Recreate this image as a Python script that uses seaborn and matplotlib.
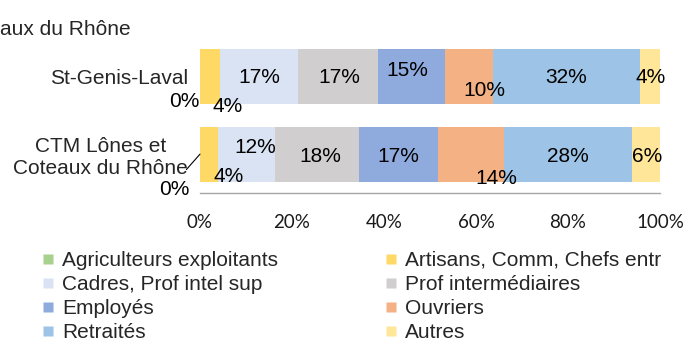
import matplotlib.pyplot as plt
import numpy as np
import seaborn as sns
from matplotlib.lines import Line2D

# Données (parts en %)
places = ["St-Genis-Laval", "CTM Lônes et\nCoteaux du Rhône"]
categories = ["Agriculteurs exploitants", "Artisans, Comm, Chefs entr", "Cadres, Prof intel sup",
              "Prof intermédiaires", "Employés", "Ouvriers", "Retraités", "Autres"]
st_genis = [0.0, 4.35, 16.96, 17.39, 14.57, 10.43, 32.17, 4.28]
ctm = [0.0, 3.91, 12.39, 18.26, 17.17, 14.35, 28.04, 6.0]
colors = ["#A9D18E", "#FFD966", "#DAE3F3", "#D0CECE", "#8FAADC", "#F4B183", "#9DC3E6", "#FFE699"]
x_ticks = [0, 20, 40, 60, 80, 100]

# décalage des étiquettes (pixels) comme dans le graphique d'origine
label_dx = [[-15.5, 18, 0, 1, -3.5, 16, 0, 0],
            [-26, 20, 9, 3, 0.5, 26, 0, 0.5]]
label_dy = [[-25.5, -30, -1, -1.5, 5.5, -14.5, -1.5, -1.5],
            [-35.5, -22.5, 7, -2.5, -2.5, -24.5, -2.5, -2.5]]

sns.set_style("white")
plt.rcParams['font.family'] = ['Liberation Sans', 'DejaVu Sans']

shares = np.array([st_genis, ctm], dtype=float)
shares = shares / shares.sum(axis=1, keepdims=True) * 100
cum = np.cumsum(shares, axis=1)

fig = plt.figure(figsize=(6.87, 3.41), dpi=100)
ax = fig.add_axes([200 / 687, 1 - 193 / 341, 460 / 687, (193 - 37.5) / 341])

# barres empilées : on dessine les cumuls du plus grand au plus petit
for i in reversed(range(len(categories))):
    sns.barplot(x=cum[:, i], y=places, orient='h', color=colors[i], width=0.705,
                linewidth=0, saturation=1, ax=ax)

# étiquettes de données
for r in range(len(places)):
    for i in range(len(categories)):
        xc = cum[r, i] - shares[r, i] / 2
        kw = {}
        if r == 1 and i == 0:
            kw['arrowprops'] = dict(arrowstyle='-', color='black', lw=0.8,
                                    relpos=(0.6, 1.0), shrinkA=7, shrinkB=0)
        ax.annotate(f"{shares[r, i]:.0f}%", xy=(xc, r),
                    xytext=(label_dx[r][i], label_dy[r][i]), textcoords='offset pixels',
                    ha='center', va='center', fontsize=15, color='black',
                    annotation_clip=False, **kw)

ax.set_xlim(0, 100)
ax.set_xticks(x_ticks)
ax.set_xticklabels([f"{t}%" for t in x_ticks], fontfamily='Lato', fontsize=13.5, color='#1a1a1a')
ax.set_xlabel("")
ax.set_ylabel("")
for s in ['top', 'right', 'left']:
    ax.spines[s].set_visible(False)
ax.spines['bottom'].set_color('#A6A6A6')
ax.spines['bottom'].set_linewidth(1)
ax.tick_params(axis='x', direction='inout', length=8.6, width=1, color='#A6A6A6', pad=11)
ax.tick_params(axis='y', length=0, pad=8.6, labelsize=15)
for lbl in ax.get_yticklabels():
    lbl.set_multialignment('center')

# titre (coupé à gauche dans l'original)
fig.text(0, 1 - 35 / 341, "aux du Rhône", ha='left', va='baseline', fontsize=15)

# légende sur deux colonnes, ordre par ligne
order = [0, 2, 4, 6, 1, 3, 5, 7]
handles = [Line2D([], [], marker='s', linestyle='none', markersize=7,
                  markerfacecolor=colors[i], markeredgecolor='none') for i in order]
labels = [categories[i] for i in order]
fig.legend(handles, labels, ncol=2, loc='upper left', bbox_to_anchor=(43 / 687, 1 - 251 / 341),
           frameon=False, borderpad=0, borderaxespad=0, handlelength=0.45,
           handletextpad=0.45, labelspacing=0.24, columnspacing=5.2, fontsize=15)

fig.savefig("out.png", dpi=100)
